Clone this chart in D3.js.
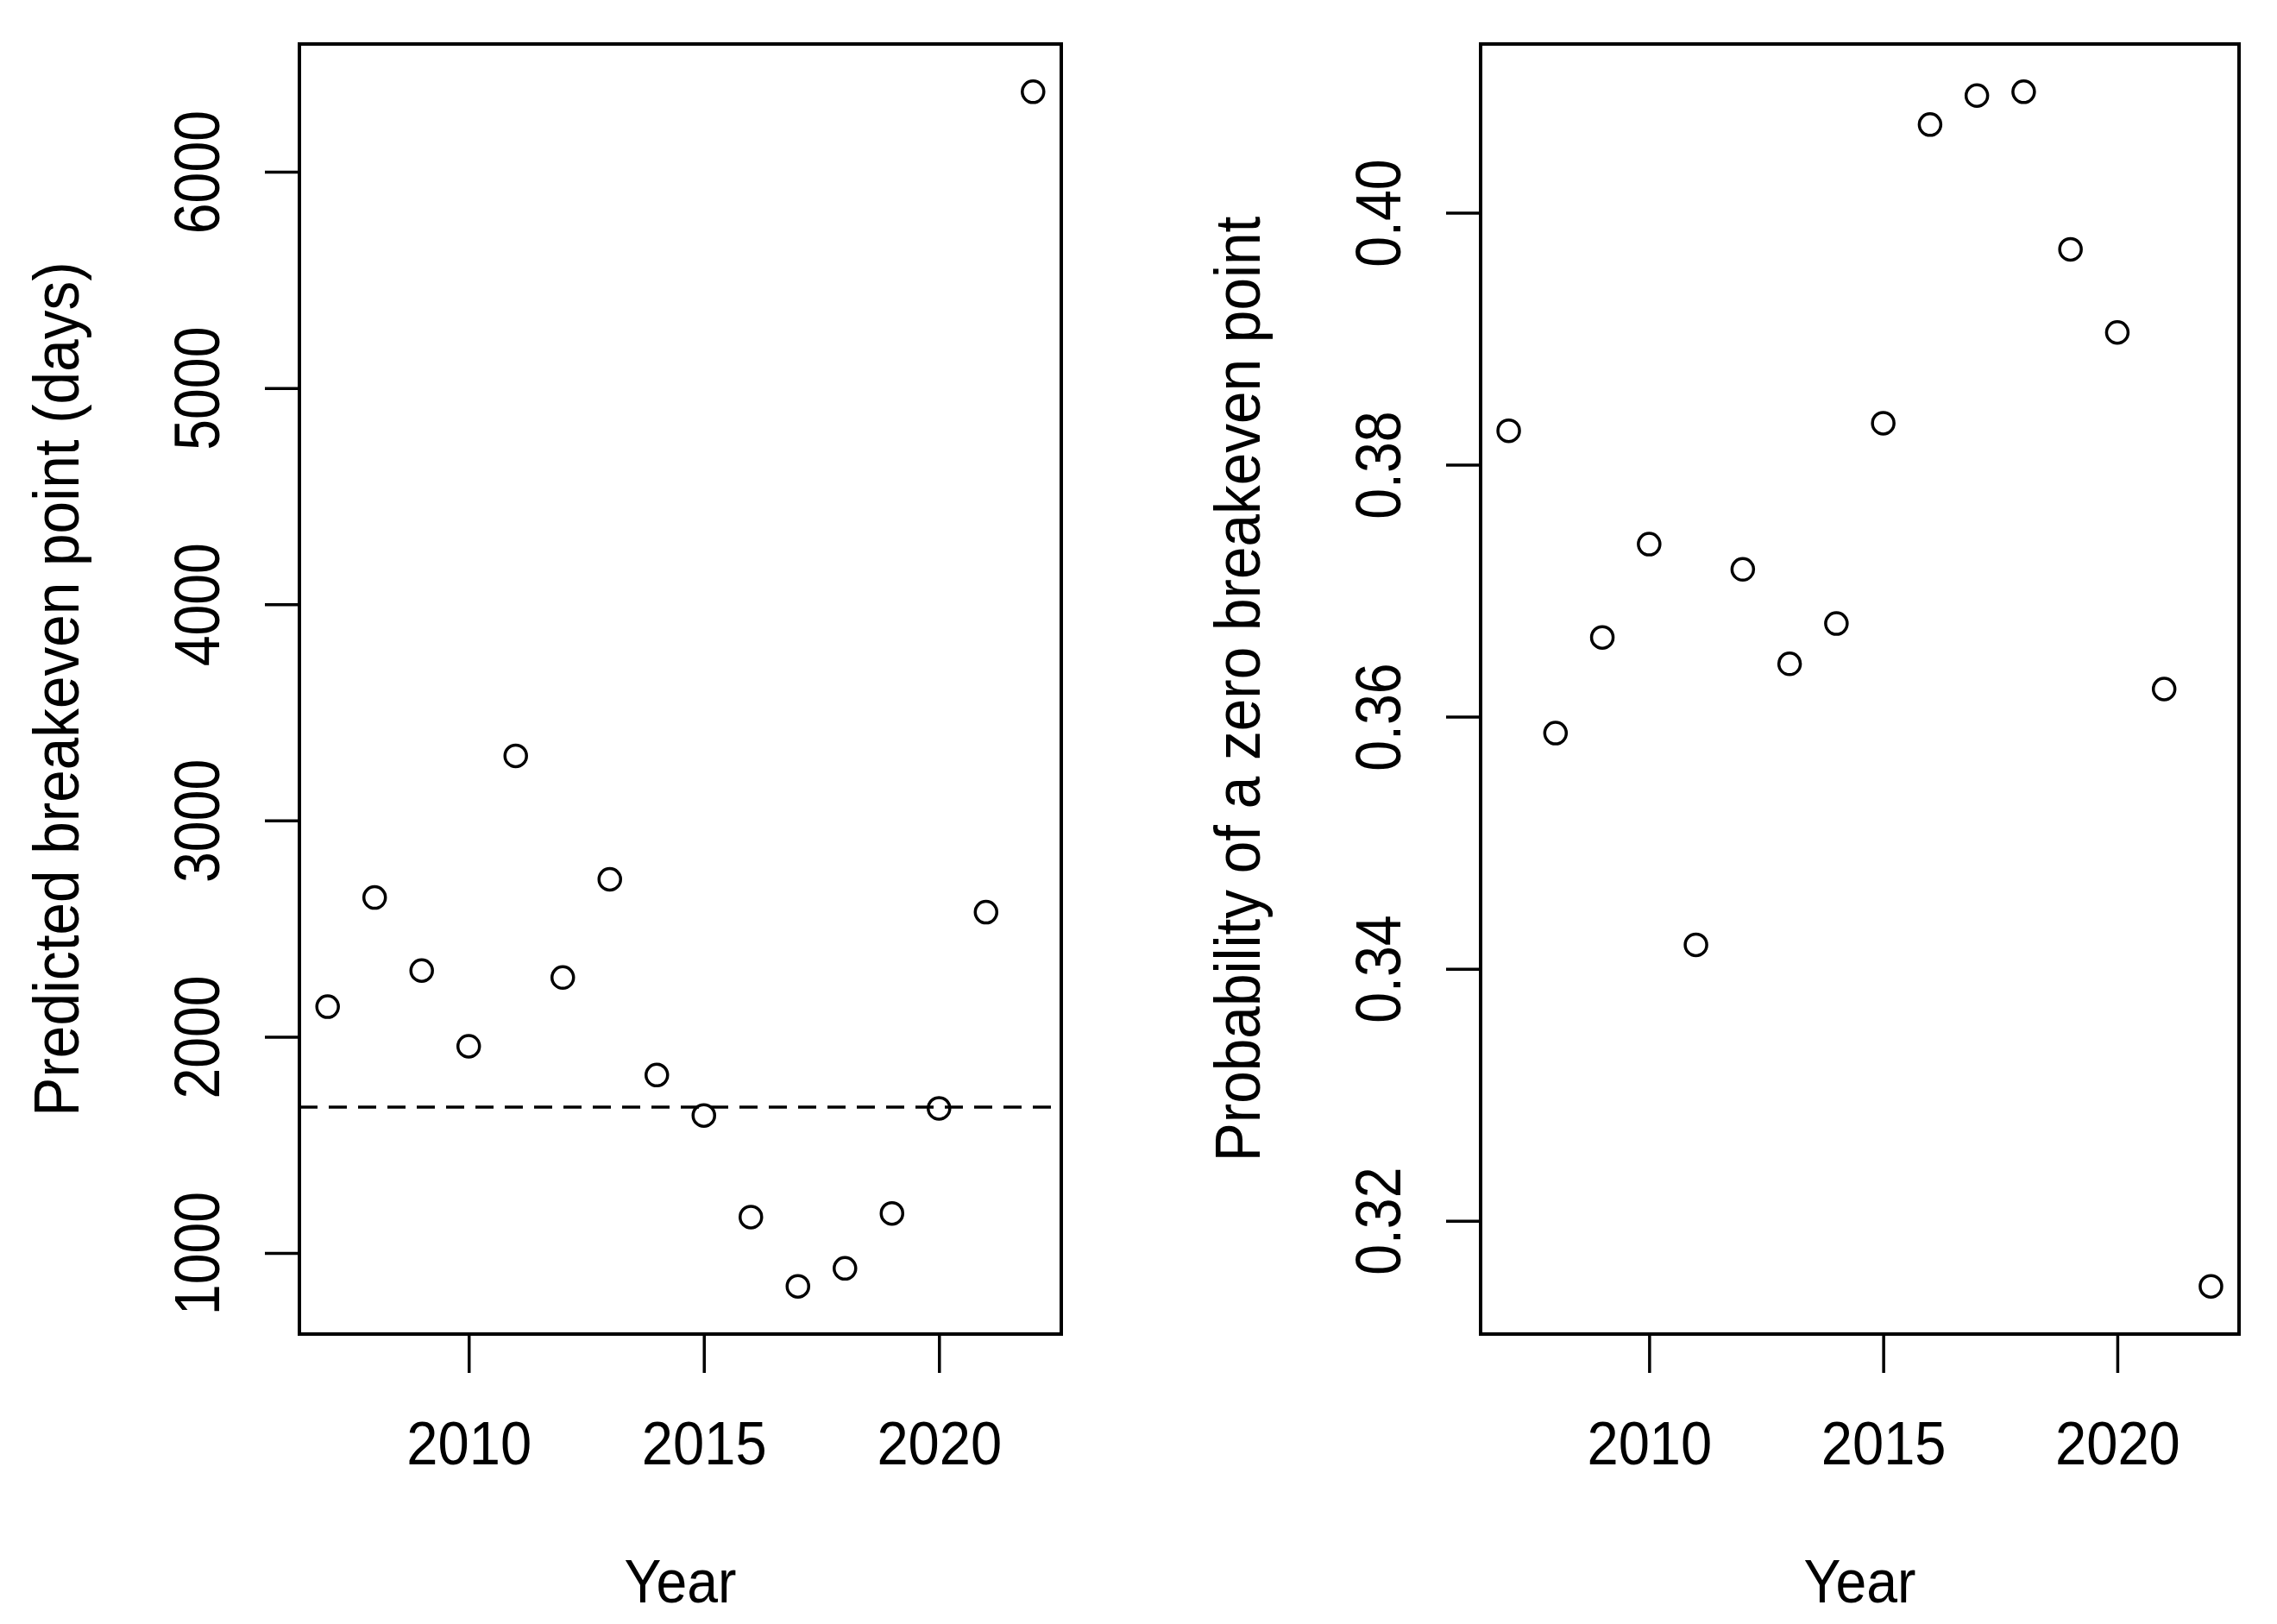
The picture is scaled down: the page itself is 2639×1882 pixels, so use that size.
<!DOCTYPE html>
<html>
<head>
<meta charset="utf-8">
<script src="https://cdn.jsdelivr.net/npm/d3@7"></script>
<style>
  html, body { margin: 0; padding: 0; background: #ffffff; }
  svg { display: block; }
  text { font-family: "Liberation Sans", Arial, sans-serif; fill: #000; }
</style>
</head>
<body>
<script>
// ---- data ----
const years = [2007, 2008, 2009, 2010, 2011, 2012, 2013, 2014, 2015, 2016, 2017, 2018, 2019, 2020, 2021, 2022];
const breakevenDays = [2139, 2644, 2306, 1956, 3299, 2274, 2728, 1823, 1636, 1166, 846, 929, 1183, 1669, 2576, 6370];
const zeroProb = [0.3827, 0.3587, 0.3663, 0.3737, 0.3419, 0.3717, 0.3642, 0.3674, 0.3833, 0.4070, 0.4093, 0.4096, 0.3971, 0.3905, 0.3622, 0.3148];
const referenceLine = 1675;
const xTicks = [2010, 2015, 2020];
const leftYTicks = [1000, 2000, 3000, 4000, 5000, 6000];
const rightYTicks = [0.32, 0.34, 0.36, 0.38, 0.40];
const xTitle = "Year";
const leftYTitle = "Predicted breakeven point (days)";
const rightYTitle = "Probability of a zero breakeven point";

// ---- layout ----
const W = 2639, H = 1882;
const plotTop = 51, plotBottom = 1546;
const panels = [
  { left: 347, right: 1230, values: breakevenDays, ticks: leftYTicks, fmt: d3.format("d"), title: leftYTitle, hline: referenceLine },
  { left: 1716, right: 2595, values: zeroProb, ticks: rightYTicks, fmt: d3.format(".2f"), title: rightYTitle, hline: null }
];

// R-style 4% padded extent
function rExtent(arr) {
  const [mn, mx] = d3.extent(arr);
  const r = mx - mn;
  return [mn - 0.04 * r, mx + 0.04 * r];
}

const svg = d3.select("body").append("svg").attr("width", W).attr("height", H);
svg.append("rect").attr("width", W).attr("height", H).attr("fill", "#fff");

panels.forEach(p => {
  const x = d3.scaleLinear().domain(rExtent(years)).range([p.left, p.right]);
  const y = d3.scaleLinear().domain(rExtent(p.values)).range([plotBottom, plotTop]);
  const g = svg.append("g");

  // x axis
  const gx = g.append("g").attr("transform", `translate(0,${plotBottom})`)
    .call(d3.axisBottom(x).tickValues(xTicks).tickFormat(d3.format("d")).tickSize(45).tickSizeOuter(0));
  gx.select(".domain").remove();
  gx.selectAll(".tick line").attr("stroke", "#000").attr("stroke-width", 3.5);
  gx.selectAll(".tick text")
    .attr("y", 0).attr("dy", null)
    .attr("transform", "translate(0,151) scale(0.93,1)")
    .attr("font-size", 70).attr("text-anchor", "middle")
    .style("font-family", '"Liberation Sans", Arial, sans-serif').attr("fill", "#000");

  // y axis
  const gy = g.append("g").attr("transform", `translate(${p.left},0)`)
    .call(d3.axisLeft(y).tickValues(p.ticks).tickFormat(p.fmt).tickSize(40).tickSizeOuter(0));
  gy.select(".domain").remove();
  gy.selectAll(".tick line").attr("stroke", "#000").attr("stroke-width", 3.5);
  gy.selectAll(".tick text")
    .attr("x", 0).attr("y", 0).attr("dy", null)
    .attr("transform", "translate(-93,0) rotate(-90) scale(0.87,1)")
    .attr("font-size", 74).attr("text-anchor", "middle")
    .style("font-family", '"Liberation Sans", Arial, sans-serif').attr("fill", "#000");

  // reference line
  if (p.hline !== null) {
    g.append("line")
      .attr("x1", p.left).attr("x2", p.right)
      .attr("y1", y(p.hline)).attr("y2", y(p.hline))
      .attr("stroke", "#000").attr("stroke-width", 3.5)
      .attr("stroke-dasharray", "21,13");
  }

  // points
  g.selectAll("circle.pt").data(years).join("circle")
    .attr("class", "pt")
    .attr("cx", (d) => x(d))
    .attr("cy", (d, i) => y(p.values[i]))
    .attr("r", 12.5)
    .attr("fill", "none").attr("stroke", "#000").attr("stroke-width", 3.5);

  // box
  g.append("rect")
    .attr("x", p.left).attr("y", plotTop)
    .attr("width", p.right - p.left).attr("height", plotBottom - plotTop)
    .attr("fill", "none").attr("stroke", "#000").attr("stroke-width", 4);

  // x title
  const cx = (p.left + p.right) / 2;
  g.append("text")
    .attr("transform", `translate(${cx},1857) scale(0.92,1)`)
    .attr("text-anchor", "middle").attr("font-size", 70)
    .text(xTitle);

  // y title
  g.append("text")
    .attr("transform", `translate(${p.left - 256},${(plotTop + plotBottom) / 2}) rotate(-90) scale(0.90,1)`)
    .attr("text-anchor", "middle").attr("font-size", 75)
    .text(p.title);
});
</script>
</body>
</html>
